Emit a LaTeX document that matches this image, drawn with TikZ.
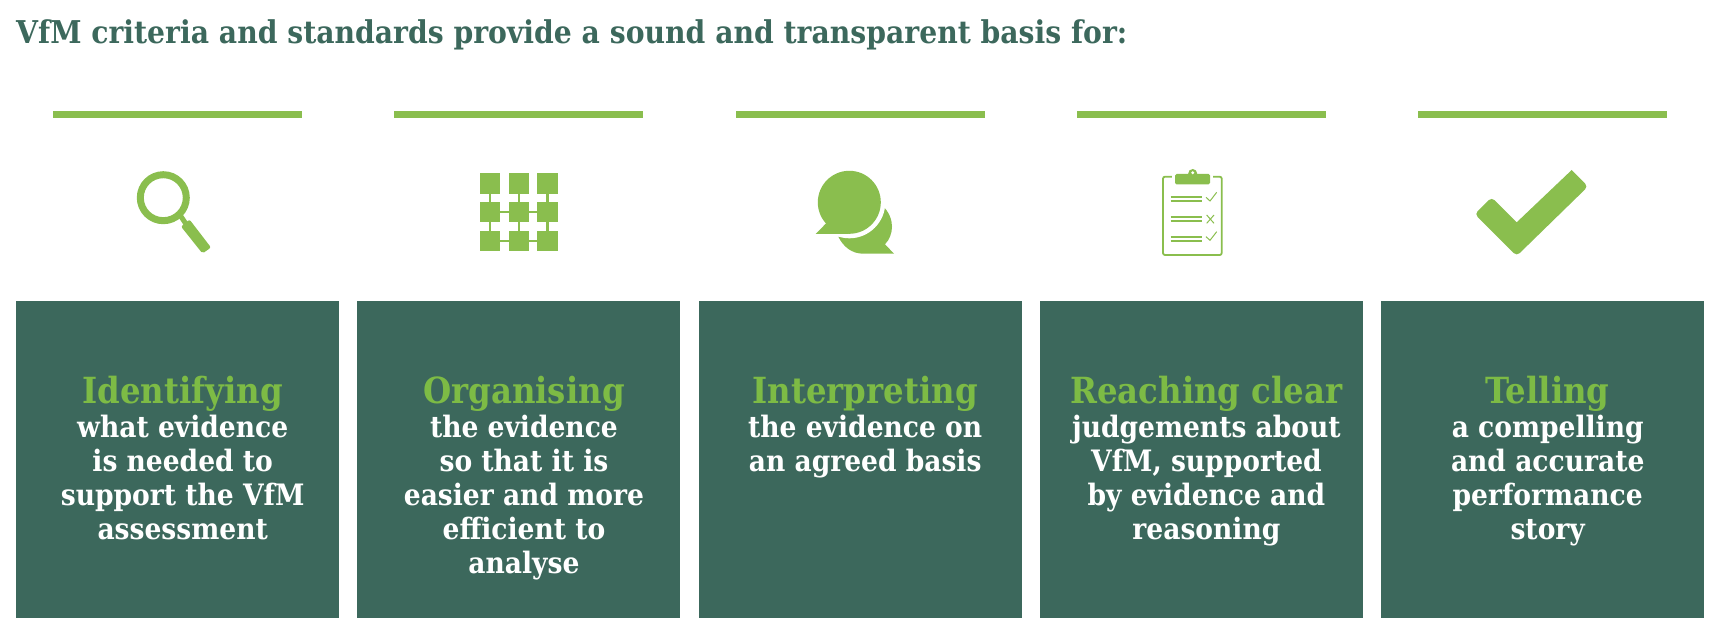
\documentclass[tikz,border=0pt]{standalone}
\usepackage{fontspec}
\usepackage{tikz}
\usetikzlibrary{positioning}
\newfontfamily\vfmfont{DejaVu Serif Condensed}
\definecolor{vfmgreen}{HTML}{8ABE4E}
\definecolor{vfmhead}{HTML}{7DBB45}
\definecolor{vfmdark}{HTML}{3C685C}
\tikzset{
    panel/.style={fill=vfmdark, minimum width=323pt, minimum height=317pt, inner sep=0pt, anchor=north west},
    paneltext/.style={text=white, align=center, inner sep=0pt, font=\vfmfont\bfseries\fontsize{29.5}{34}\selectfont},
    cell/.style={fill=vfmgreen, minimum size=20.4pt, inner sep=0pt},
    rule/.style={fill=vfmgreen},
    listline/.style={draw=vfmgreen, line width=1.8pt}
}
\begin{document}
\begin{tikzpicture}[x=1pt,y=-1pt]
    \useasboundingbox (0,0) rectangle (1724,636);

    % Title
    \node[anchor=base west, inner sep=0pt, text=vfmdark, font=\vfmfont\bfseries\fontsize{31.4}{34}\selectfont] (title) at (16,44)
        {VfM criteria and standards provide a sound and transparent basis for:};

    % Rules and panels
    \foreach \i/\head/\body in {
        0/Identifying/{what evidence\\is needed to\\support the VfM\\assessment},
        1/Organising/{the evidence\\so that it is\\easier and more\\efficient to\\analyse},
        2/Interpreting/{the evidence on\\an agreed basis},
        3/Reaching clear/{judgements about\\VfM, supported\\by evidence and\\reasoning},
        4/Telling/{a compelling\\and accurate\\performance\\story}}{
        \fill[rule] ({53+341.25*\i},111) rectangle ({302+341.25*\i},118);
        \node[panel] (box\i) at ({16+341.25*\i},301) {};
        \node[paneltext, below=75pt of box\i.north, xshift=5pt] (text\i)
            {{\color{vfmhead}\fontsize{36}{34}\selectfont\head}\\\body};
    }

    % Magnifier
    \draw[vfmgreen, line width=7pt] (163.3,197.7) circle (23);
    \draw[vfmgreen, line width=5pt] (180,215) -- (186,224);
    \fill[vfmgreen, rounded corners=2pt] (181,226.5) -- (189.5,219.5) -- (211,247.5) -- (202.5,253.5) -- cycle;

    % Grid
    \foreach \c in {0,1,2}
    \foreach \r in {0,1,2}
    \node[cell] (cell\c\r) at ({490.2+28.67*\c},{183.5+28.67*\r}) {};
    \foreach \c in {0,1,2}{
        \draw[vfmgreen, line width=2.4pt] (cell\c0.center) -- (cell\c1.center) -- (cell\c2.center);
    }
    \foreach \r in {1,2}{
        \draw[vfmgreen, line width=2.4pt] (cell0\r.center) -- (cell1\r.center) -- (cell2\r.center);
    }

    % Speech bubbles
    \fill[vfmgreen] (881.7,205) .. controls (889.3,211.7) and (892,220) .. (892,226.7)
        .. controls (892,233.3) and (889.3,240) .. (885,244.3) -- (894,253.7) -- (863.3,253.7)
        .. controls (851.7,253.7) and (843.3,246.7) .. (838.3,236.7) -- cycle;
    \fill[white] (849.3,202.3) circle (36);
    \fill[vfmgreen] (849.3,202.3) circle (31.5);
    \fill[vfmgreen] (826.7,222.7) -- (815.7,234) -- (849.3,234) -- cycle;

    % Clipboard
    \draw[vfmgreen, line width=1.8pt, rounded corners=2pt] (1163,176.7) rectangle (1221.7,255);
    \fill[white] (1172,172) rectangle (1213,180);
    \fill[vfmgreen] (1192.7,173.5) circle (4.5);
    \fill[vfmgreen, rounded corners=1.5pt] (1175,174) rectangle (1210,184.3);
    \fill[white] (1192.7,172.7) circle (1.6);
    \foreach \y in {196.7,201,216.7,221,236.7,240.7}
    \draw[listline] (1170.7,\y) -- (1202,\y);
    \draw[listline, line width=1pt] (1206,197.3) -- (1210,201) -- (1216.7,192.3);
    \draw[listline, line width=1pt] (1206.7,215) -- (1214,223.3);
    \draw[listline, line width=1pt] (1214,215) -- (1206.7,223.3);
    \draw[listline, line width=1pt] (1206,236.7) -- (1210,240.3) -- (1216.7,231.7);

    % Tick
    \fill[vfmgreen, rounded corners=4pt] (1571.7,170) -- (1588,186.5) -- (1516.7,256) -- (1474.7,214) -- (1491.7,197.3)
        [sharp corners] -- (1516.7,222.3) -- cycle;
\end{tikzpicture}
\end{document}
